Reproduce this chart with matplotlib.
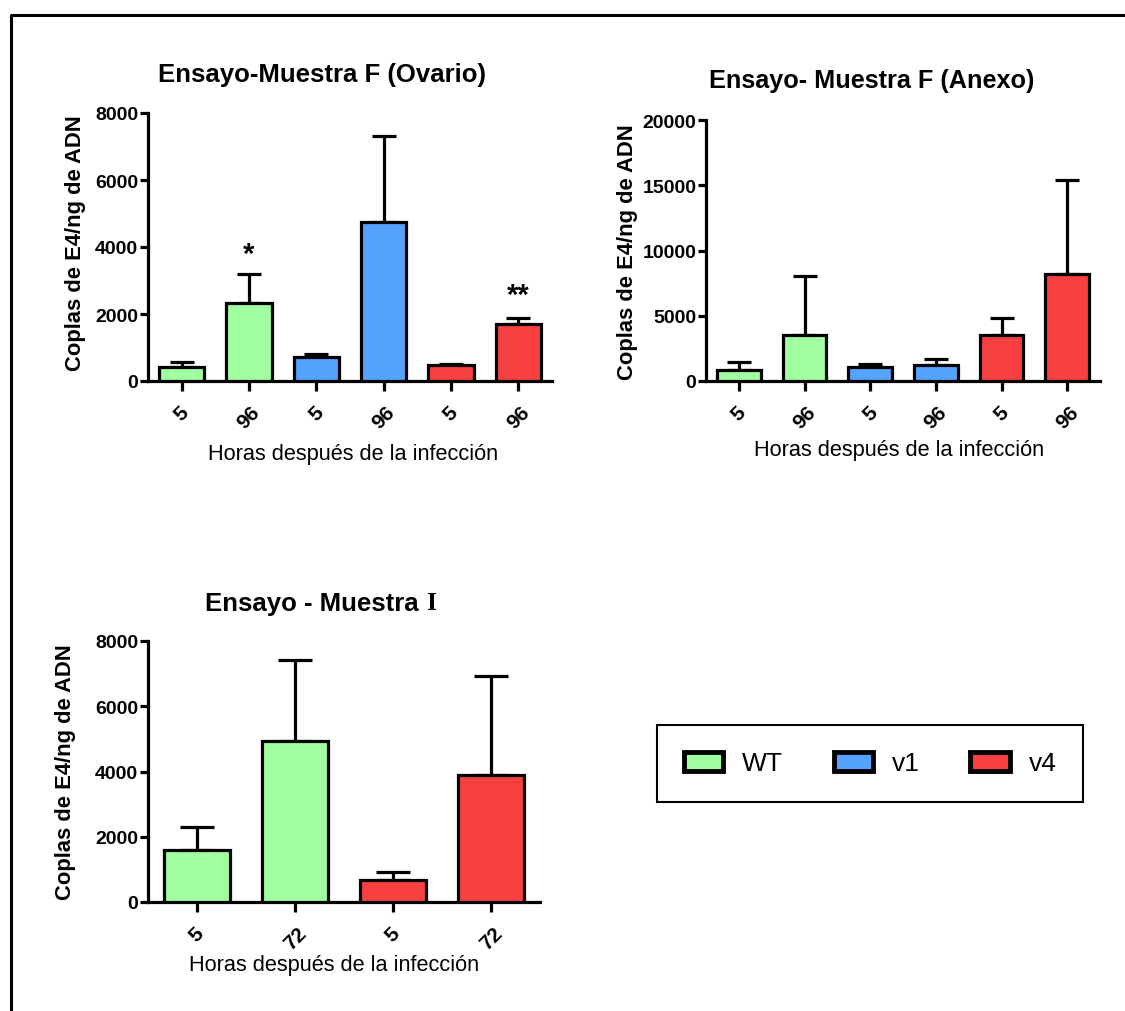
import matplotlib
matplotlib.use("Agg")
import matplotlib.pyplot as plt
from matplotlib.patches import Patch
from matplotlib.lines import Line2D

plt.rcParams['font.family'] = ['Liberation Sans', 'DejaVu Sans']

# ---------------- data ----------------
groups = ["WT", "v1", "v4"]
colors = {"WT": "#A0FF9E", "v1": "#55A2FF", "v4": "#F84040"}

ovario_labels = ["5", "96", "5", "96", "5", "96"]
ovario_groups = ["WT", "WT", "v1", "v1", "v4", "v4"]
ovario_mean = [420, 2320, 715, 4750, 470, 1700]
ovario_err = [150, 870, 85, 2570, 40, 185]
ovario_marks = ["", "*", "", "", "", "**"]
ovario_mark_y = [0, 3780, 0, 0, 0, 2560]

anexo_labels = ["5", "96", "5", "96", "5", "96"]
anexo_groups = ["WT", "WT", "v1", "v1", "v4", "v4"]
anexo_mean = [820, 3500, 1100, 1200, 3500, 8170]
anexo_err = [640, 4550, 180, 520, 1330, 7230]

muestraI_labels = ["5", "72", "5", "72"]
muestraI_groups = ["WT", "WT", "v4", "v4"]
muestraI_mean = [1580, 4930, 660, 3900]
muestraI_err = [720, 2500, 260, 3020]

W, H = 1125, 1012
fig = plt.figure(figsize=(W / 100, H / 100), dpi=100)


def rect(l, r, t, b):
    return [l / W, 1 - b / H, (r - l) / W, (b - t) / H]


def panel(r, labels, grps, means, errs, ymax, ystep, cap):
    ax = fig.add_axes(r)
    x = list(range(len(labels)))
    cols = [colors[g] for g in grps]
    ax.bar(x, means, width=0.67, color=cols, edgecolor='black', linewidth=2.3, zorder=3)
    ax.errorbar(x, means, yerr=[[0] * len(x), errs], fmt='none', ecolor='black',
                elinewidth=2.3, capsize=cap, capthick=2.3, zorder=2)
    ax.set_xlim(-0.5, len(x) - 0.5)
    ax.set_ylim(0, ymax)
    ax.set_yticks(range(0, ymax + 1, ystep))
    ax.set_xticks(x)
    ax.set_xticklabels(labels, rotation=45, fontweight='bold', fontsize=15)
    for lab in ax.get_yticklabels():
        lab.set_fontweight('bold')
        lab.set_fontsize(14)
    ax.spines['top'].set_visible(False)
    ax.spines['right'].set_visible(False)
    ax.spines['left'].set_linewidth(2.3)
    ax.spines['bottom'].set_linewidth(2.3)
    ax.tick_params(axis='x', length=7, width=2.3, pad=8)
    ax.tick_params(axis='y', length=6, width=2.3, pad=1)
    ax.patch.set_alpha(0)
    return ax


ax1 = panel(rect(148, 552, 114, 382), ovario_labels, ovario_groups, ovario_mean,
            ovario_err, 8000, 2000, 8.5)
for i, (m, y) in enumerate(zip(ovario_marks, ovario_mark_y)):
    if m:
        ax1.text(i, y, m, ha='center', va='center', fontsize=21, fontweight='bold')

ax2 = panel(rect(706, 1100, 121, 382), anexo_labels, anexo_groups, anexo_mean,
            anexo_err, 20000, 5000, 8.5)
ax3 = panel(rect(148, 540, 642, 903), muestraI_labels, muestraI_groups, muestraI_mean,
            muestraI_err, 8000, 2000, 12.5)


def ftext(x, y, s, **kw):
    return fig.text(x / W, 1 - y / H, s, **kw)


# titles
ftext(322, 75, "Ensayo-Muestra F (Ovario)", ha='center', va='center', fontsize=18.5, fontweight='bold')
ftext(872, 81, "Ensayo- Muestra F (Anexo)", ha='center', va='center', fontsize=18.2, fontweight='bold')
t3 = ftext(205, 604, "Ensayo - Muestra ", ha='left', va='center', fontsize=18.5, fontweight='bold')
renderer = fig.canvas.get_renderer()
bb = t3.get_window_extent(renderer=renderer)
fig.text(bb.x1 / W, 1 - 604 / H, "I", ha='left', va='center', fontsize=18.5,
         fontweight='bold', family='Liberation Serif')

# x labels
for (x, y) in [(353, 455), (899, 451), (334, 966)]:
    ftext(x, y, "Horas después de la infección", ha='center', va='center', fontsize=15.7)
# y labels
for (x, y) in [(75, 243), (627, 252), (65, 772)]:
    ftext(x, y, "Coplas de E4/ng de ADN", ha='center', va='center', fontsize=15.8,
          fontweight='bold', rotation=90)

# legend
handles = [Patch(facecolor=colors[g], edgecolor='black', linewidth=3.5, label=g) for g in groups]
leg = fig.legend(handles=handles, loc='center', ncol=3,
                 bbox_to_anchor=(644 / W, 1 - 802 / H, 452 / W, 75 / H), mode='expand',
                 fontsize=19, handlelength=1.5, handleheight=0.75, handletextpad=0.7,
                 columnspacing=2.0, borderpad=1.0, fancybox=False, frameon=True,
                 edgecolor='black', framealpha=1)
leg.get_frame().set_linewidth(1.5)

# outer border
fig.add_artist(Line2D([11 / W, 11 / W, 1.0], [0.0, 1 - 16 / H, 1 - 16 / H],
                      transform=fig.transFigure, color='black', linewidth=2.2))

fig.savefig("out.png", dpi=100)
